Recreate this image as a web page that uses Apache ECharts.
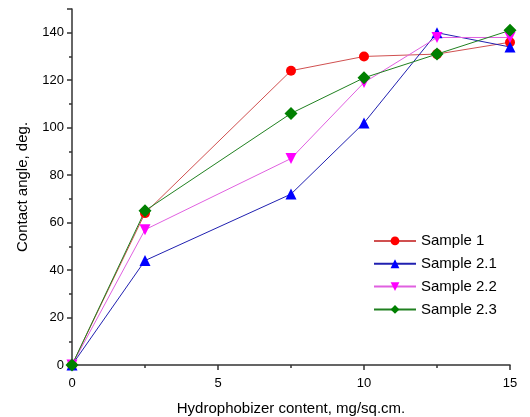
<html>
<head>
  <script src="https://cdnjs.cloudflare.com/ajax/libs/echarts/6.0.0/echarts.min.js"></script>
</head>
<body style="margin:0">
  <div id="main" style="width: 530px;height:417px;"></div>
  <script>
    var xValues = [0, 2.5, 7.5, 10, 12.5, 15];
    var sample1 = [0, 64, 124, 130, 131, 136];
    var sample21 = [0, 44, 72, 102, 140, 134];
    var sample22 = [0, 57, 87, 119, 138, 138];
    var sample23 = [0, 65, 106, 121, 131, 141];

    var myChart = echarts.init(document.getElementById('main'));
    const font = 'Liberation Sans, Arial, sans-serif';

    function pairs(ys) {
      return xValues.map((x, i) => [x, ys[i]]);
    }

    function makeLine(name, ys, color, lineColor, symbol, size, rotate) {
      return {
        name: name,
        type: 'line',
        data: pairs(ys),
        symbol: symbol,
        symbolSize: size,
        symbolRotate: rotate || 0,
        itemStyle: { color: color },
        lineStyle: { color: lineColor, width: 1 },
        animation: false
      };
    }

    const seriesList = [
      makeLine('Sample 1', sample1, '#ff0000', '#d05050', 'circle', 10),
      makeLine('Sample 2.1', sample21, '#0000ff', '#2020b0', 'triangle', 11),
      makeLine('Sample 2.2', sample22, '#ff00ff', '#e060e0', 'triangle', 11, 180),
      makeLine('Sample 2.3', sample23, '#008000', '#208020', 'diamond', 13)
    ];

    const axisColor = '#333';

    option = {
      backgroundColor: '#fff',
      grid: {
        left: 72,
        right: 20,
        top: 9,
        bottom: 52,
        containLabel: false,
        outerBoundsMode: 'none'
      },
      legend: {
        orient: 'vertical',
        left: 373,
        top: 228,
        padding: 0,
        itemWidth: 42,
        itemHeight: 11,
        itemGap: -3,
        textStyle: { fontFamily: font, fontSize: 15, color: '#000' },
        data: ['Sample 1', 'Sample 2.1', 'Sample 2.2', 'Sample 2.3']
      },
      xAxis: {
        type: 'value',
        min: 0,
        max: 15,
        interval: 5,
        name: 'Hydrophobizer content, mg/sq.cm.',
        nameLocation: 'middle',
        nameGap: 31,
        nameMoveOverlap: false,
        nameTextStyle: { fontFamily: font, fontSize: 15, color: '#000' },
        axisLine: { show: true, lineStyle: { color: axisColor, width: 1.5 } },
        axisTick: { show: true, inside: false, length: 5, lineStyle: { color: axisColor, width: 1.5 } },
        minorTick: { show: true, splitNumber: 2, length: 3, lineStyle: { color: axisColor, width: 1.5 } },
        axisLabel: { fontFamily: font, fontSize: 13, color: '#000', margin: 7 },
        splitLine: { show: false }
      },
      yAxis: {
        type: 'value',
        min: 0,
        max: 150,
        interval: 20,
        name: 'Contact angle, deg.',
        nameLocation: 'middle',
        nameGap: 36,
        nameMoveOverlap: false,
        nameTextStyle: { fontFamily: font, fontSize: 15, color: '#000' },
        axisLine: { show: true, lineStyle: { color: axisColor, width: 1.5 } },
        axisTick: { show: true, inside: false, length: 5, lineStyle: { color: axisColor, width: 1.5 } },
        minorTick: { show: true, splitNumber: 2, length: 3, lineStyle: { color: axisColor, width: 1.5 } },
        axisLabel: {
          fontFamily: font, fontSize: 13, color: '#000', margin: 8,
          formatter: function (v) { return v % 20 === 0 ? String(v) : ''; }
        },
        splitLine: { show: false }
      },
      series: seriesList
    };

    myChart.setOption(option);
  </script>
</body>
</html>
